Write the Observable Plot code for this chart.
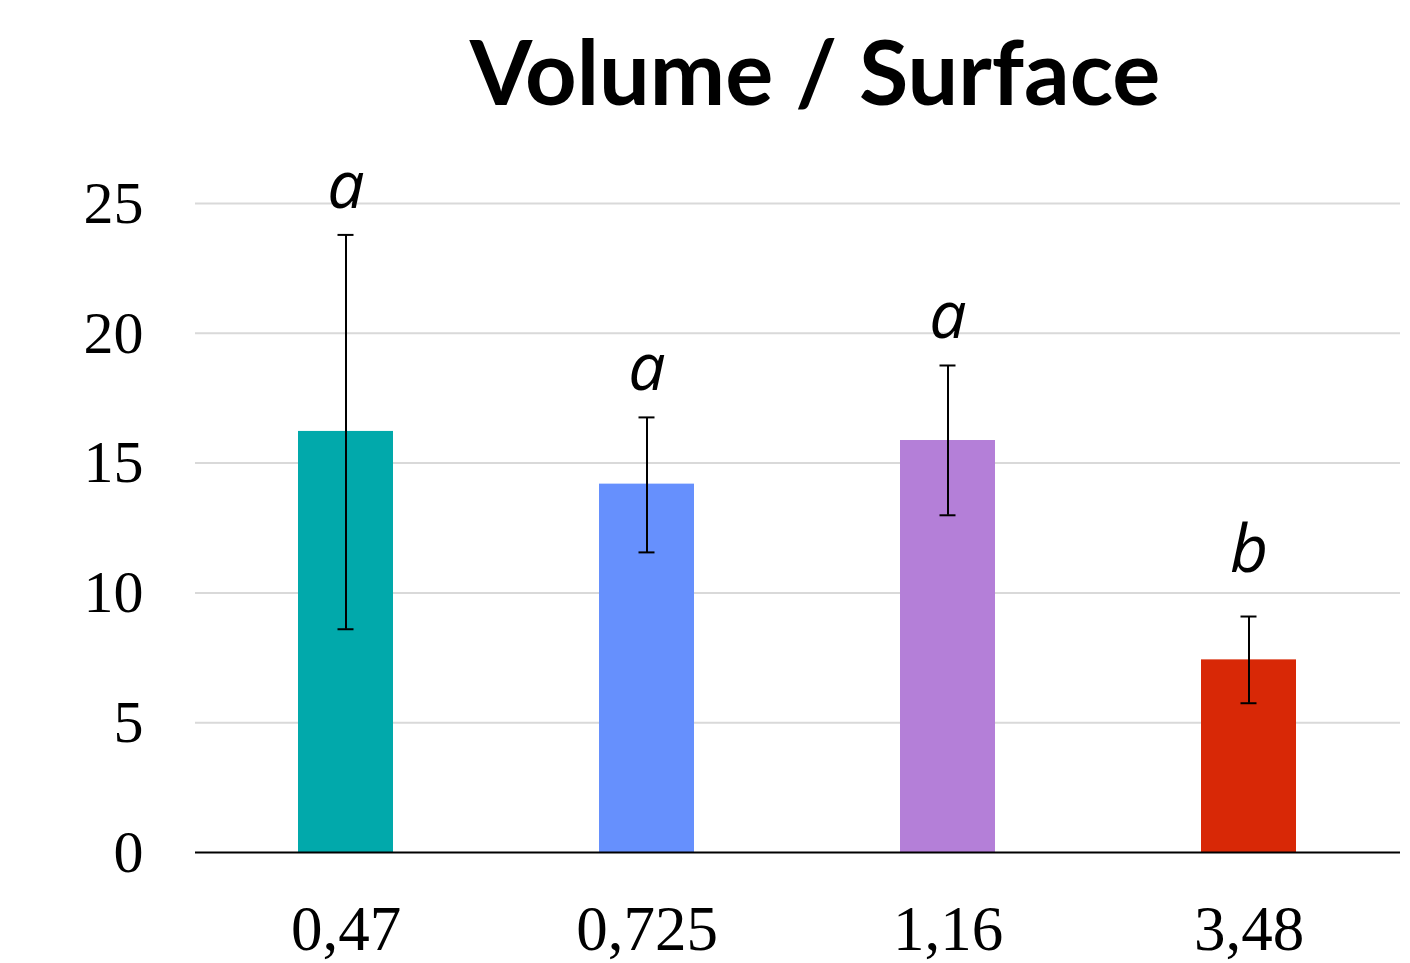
<!DOCTYPE html>
<html>
<head>
<meta charset="utf-8">
<script src="https://cdn.jsdelivr.net/npm/d3@7"></script>
<script src="https://cdn.jsdelivr.net/npm/@observablehq/plot@0.6"></script>
<style>
  html, body { margin: 0; padding: 0; background: #fff; }
  #wrap { position: relative; width: 1410px; height: 963px; overflow: hidden; background: #fff; }
  #title { position: absolute; left: 0; top: 0; width: 1630px; height: 140px; text-align: center; z-index: 2;
           font-family: Lato, "Open Sans", sans-serif; font-weight: 700; font-size: 90px; line-height: 140px; color: #000; }
  #chart { position: absolute; left: 0; top: 100px; z-index: 1; }
</style>
</head>
<body>
<div id="wrap">
  <div id="title">Volume / Surface</div>
  <div id="chart"></div>
</div>
<script>
const categories = ["0,47", "0,725", "1,16", "3,48"];
const means = [16.22, 14.19, 15.87, 7.42];
const errLow = [8.60, 11.56, 12.99, 5.75];
const errHigh = [23.79, 16.76, 18.76, 9.09];
const letters = ["a", "a", "a", "b"];
const colors = ["#01a9ab", "#6690fd", "#b47fd8", "#d82806"];
const yTicks = [0, 5, 10, 15, 20, 25];

const data = categories.map((c, i) => ({
  cat: c, mean: means[i], lo: errLow[i], hi: errHigh[i], letter: letters[i], color: colors[i]
}));

const chart = Plot.plot({
  width: 1410,
  height: 863,
  marginLeft: 195,
  marginRight: 10,
  marginTop: 103,
  marginBottom: 111,
  style: { background: "transparent", overflow: "visible" },
  x: { domain: categories, paddingInner: 0.684, paddingOuter: 0.342, label: null },
  y: { domain: [0, 25], label: null },
  marks: [
    Plot.gridY(yTicks.filter(d => d > 0), { stroke: "#d9d9d9", strokeOpacity: 1, strokeWidth: 2 }),
    Plot.axisY(yTicks, { tickSize: 0, tickPadding: 52, fontSize: 60, fontFamily: "Liberation Serif, serif", label: null }),
    Plot.axisX({ tickSize: 0, tickPadding: 53, fontSize: 63, fontFamily: "Liberation Serif, serif", label: null }),
    Plot.barY(data, { x: "cat", y: "mean", fill: "color" }),
    Plot.ruleY([0], { stroke: "#000", strokeWidth: 2 }),
    Plot.ruleX(data, { x: "cat", y1: "lo", y2: "hi", stroke: "#000", strokeWidth: 2 }),
    Plot.tickY(data, { x: "cat", y: "hi", stroke: "#000", strokeWidth: 2, insetLeft: 39.5, insetRight: 39.5 }),
    Plot.tickY(data, { x: "cat", y: "lo", stroke: "#000", strokeWidth: 2, insetLeft: 39.5, insetRight: 39.5 }),
    Plot.text(data.filter(d => d.letter === "a"), { x: "cat", y: "hi", text: "letter", lineAnchor: "bottom", dy: -27,
      fontSize: 66, fontStyle: "italic", fontFamily: "Open Sans, sans-serif", fill: "#000" }),
    Plot.text(data.filter(d => d.letter === "b"), { x: "cat", y: "hi", text: "letter", lineAnchor: "bottom", dy: -45,
      fontSize: 66, fontStyle: "italic", fontFamily: "Open Sans, sans-serif", fill: "#000" })
  ]
});
document.getElementById("chart").appendChild(chart);
</script>
</body>
</html>
